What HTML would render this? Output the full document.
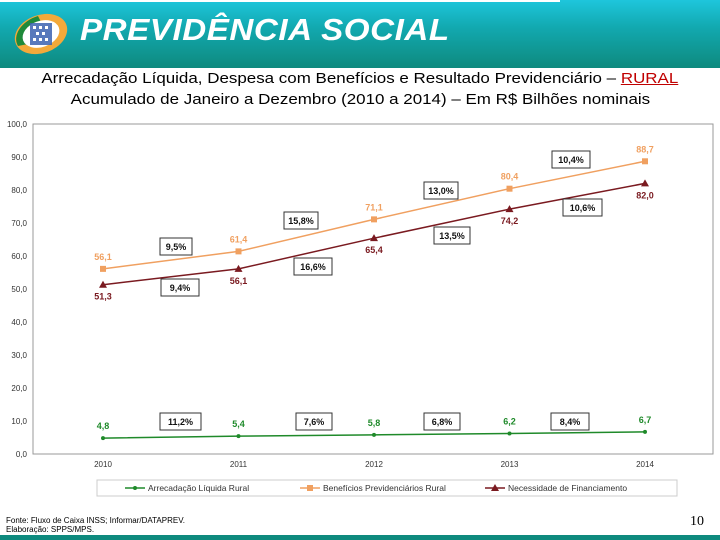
<!DOCTYPE html>
<html><head><meta charset="utf-8">
<style>
body{margin:0;width:720px;height:540px;background:#fff;overflow:hidden;position:relative;font-family:"Liberation Sans",sans-serif;}
.hdr{position:absolute;left:0;top:0;width:720px;height:68px;background:linear-gradient(#1ec6dc 0%,#12a9b0 40%,#0e8a7e 100%);}
.hdr .line{position:absolute;left:0;top:0;width:560px;height:2px;background:#fff;}
.brand{position:absolute;left:80px;top:12px;color:#fff;font-weight:bold;font-style:italic;font-size:31px;letter-spacing:0.5px;transform:scaleX(1.07);transform-origin:left top;}
.title{position:absolute;left:0;width:720px;text-align:center;font-size:15px;color:#000;}
.title span.in{display:inline-block;transform:scaleX(1.13);}
.foot{position:absolute;left:6px;top:516px;font-size:8px;line-height:9px;color:#000;}
.pg{position:absolute;left:690px;top:514px;font-size:14px;font-family:"Liberation Serif",serif;}
.bar{position:absolute;left:0;top:535px;width:720px;height:5px;background:#0e8a7e;}
</style></head><body>
<div class="hdr"><div class="line"></div>
<svg width="70" height="60" style="position:absolute;left:8px;top:6px">
<ellipse cx="33" cy="28" rx="27" ry="19" fill="#f3a93a" transform="rotate(-20 33 28)"/>
<path d="M10 40 A27 19 -20 0 1 30 10 L34 18 A18 12 -20 0 0 20 38 Z" fill="#1f8a3a"/>
<ellipse cx="33" cy="28" rx="19" ry="13" fill="#fff" transform="rotate(-20 33 28)"/>
<rect x="22" y="17" width="22" height="22" fill="#3b62b0" opacity="0.85"/>
<g fill="#fff"><rect x="25" y="20" width="3" height="3"/><rect x="31" y="20" width="3" height="3"/><rect x="37" y="20" width="3" height="3"/><rect x="28" y="26" width="3" height="3"/><rect x="34" y="26" width="3" height="3"/><rect x="25" y="32" width="3" height="3"/><rect x="31" y="32" width="3" height="3"/><rect x="37" y="32" width="3" height="3"/></g>
</svg>
<div class="brand">PREVIDÊNCIA SOCIAL</div></div>
<div class="title" style="top:70px"><span class="in">Arrecadação Líquida, Despesa com Benefícios e Resultado Previdenciário – <span style="color:#c00000;text-decoration:underline">RURAL</span></span></div>
<div class="title" style="top:91px"><span class="in">Acumulado de Janeiro a Dezembro (2010 a 2014) – Em R$ Bilhões nominais</span></div>
<svg id="chart" width="720" height="540" style="position:absolute;left:0;top:0"></svg>
<div class="foot">Fonte: Fluxo de Caixa INSS; Informar/DATAPREV.<br>Elaboração: SPPS/MPS.</div>
<div class="pg">10</div>
<div class="bar"></div>
<script>
const years=["2010","2011","2012","2013","2014"];
const arrecadacao=[4.8,5.4,5.8,6.2,6.7];
const beneficios=[56.1,61.4,71.1,80.4,88.7];
const necessidade=[51.3,56.1,65.4,74.2,82.0];
const yTicks=[0,10,20,30,40,50,60,70,80,90,100];
const NS="http://www.w3.org/2000/svg";
const svg=document.getElementById('chart');
const x0=103,dx=135.5;
function xs(i){return x0+i*dx;}
function ys(v){return 454-v*3.3;}
function el(t,a,p){const e=document.createElementNS(NS,t);for(const k in a)e.setAttribute(k,a[k]);(p||svg).appendChild(e);return e;}
const fmt=v=>v.toFixed(1).replace('.',',');
const frame=el('rect',{x:33,y:124,width:680,height:330,fill:'none',stroke:'#999','stroke-width':1});


yTicks.forEach(t=>{const tx=el('text',{x:27,y:ys(t)+3,'text-anchor':'end','font-size':8,fill:'#333'});tx.textContent=fmt(t);

});
years.forEach((y,i)=>{const tx=el('text',{x:xs(i),y:467,'text-anchor':'middle','font-size':8,fill:'#333'});tx.textContent=y;

});
function series(data,color,marker,name,labelDy){
 const pts=data.map((v,i)=>xs(i)+','+ys(v)).join(' ');
 const pl=el('polyline',{points:pts,fill:'none',stroke:color,'stroke-width':1.5});
 
 
 data.forEach((v,i)=>{const x=xs(i),y=ys(v);let m;
  if(marker==='sq')m=el('rect',{x:x-3,y:y-3,width:6,height:6,fill:color});
  else if(marker==='tri')m=el('polygon',{points:`${x},${y-4} ${x-4},${y+3} ${x+4},${y+3}`,fill:color});
  else m=el('circle',{cx:x,cy:y,r:2,fill:color});
  
  
  const t=el('text',{x:x,y:y+labelDy,'text-anchor':'middle','font-size':9,'font-weight':'bold',fill:color});t.textContent=fmt(v);
  
  });
}
series(arrecadacao,'#1f8a2a','dot','arrecadacao',-9);
series(beneficios,'#f0a060','sq','beneficios',-9);
series(necessidade,'#7a1a20','tri','necessidade',15);
const boxes=[["9,5%",160,238,32],["9,4%",161,279,38],["15,8%",284,212,34],["16,6%",294,258,38],["13,0%",424,182,34],["13,5%",434,227,36],["10,4%",552,151,38],["10,6%",563,199,39],
["11,2%",160,413,41],["7,6%",296,413,36],["6,8%",424,413,36],["8,4%",551,413,38]];
boxes.forEach(b=>{const g=el('g',{});
 
 
 el('rect',{x:b[1],y:b[2],width:b[3],height:17,fill:'#fff',stroke:'#333','stroke-width':1},g);
 const t=el('text',{x:b[1]+b[3]/2,y:b[2]+12,'text-anchor':'middle','font-size':9,'font-weight':'bold',fill:'#111'},g);t.textContent=b[0];});
const lg=el('rect',{x:97,y:480,width:580,height:16,fill:'#fff',stroke:'#ccc'});


const leg=[["Arrecadação Líquida Rural",'#1f8a2a','dot',125],["Benefícios Previdenciários Rural",'#f0a060','sq',300],["Necessidade de Financiamento",'#7a1a20','tri',485]];
leg.forEach(l=>{const g=el('g',{});
 
 
 const x=l[3],y=488;
 el('line',{x1:x,y1:y,x2:x+20,y2:y,stroke:l[1],'stroke-width':1.5},g);
 if(l[2]==='sq')el('rect',{x:x+7,y:y-3,width:6,height:6,fill:l[1]},g);
 else if(l[2]==='tri')el('polygon',{points:`${x+10},${y-4} ${x+6},${y+3} ${x+14},${y+3}`,fill:l[1]},g);
 else el('circle',{cx:x+10,cy:y,r:2,fill:l[1]},g);
 const t=el('text',{x:x+23,y:y+3,'font-size':8.5,fill:'#333'},g);t.textContent=l[0];});
</script>
</body></html>
